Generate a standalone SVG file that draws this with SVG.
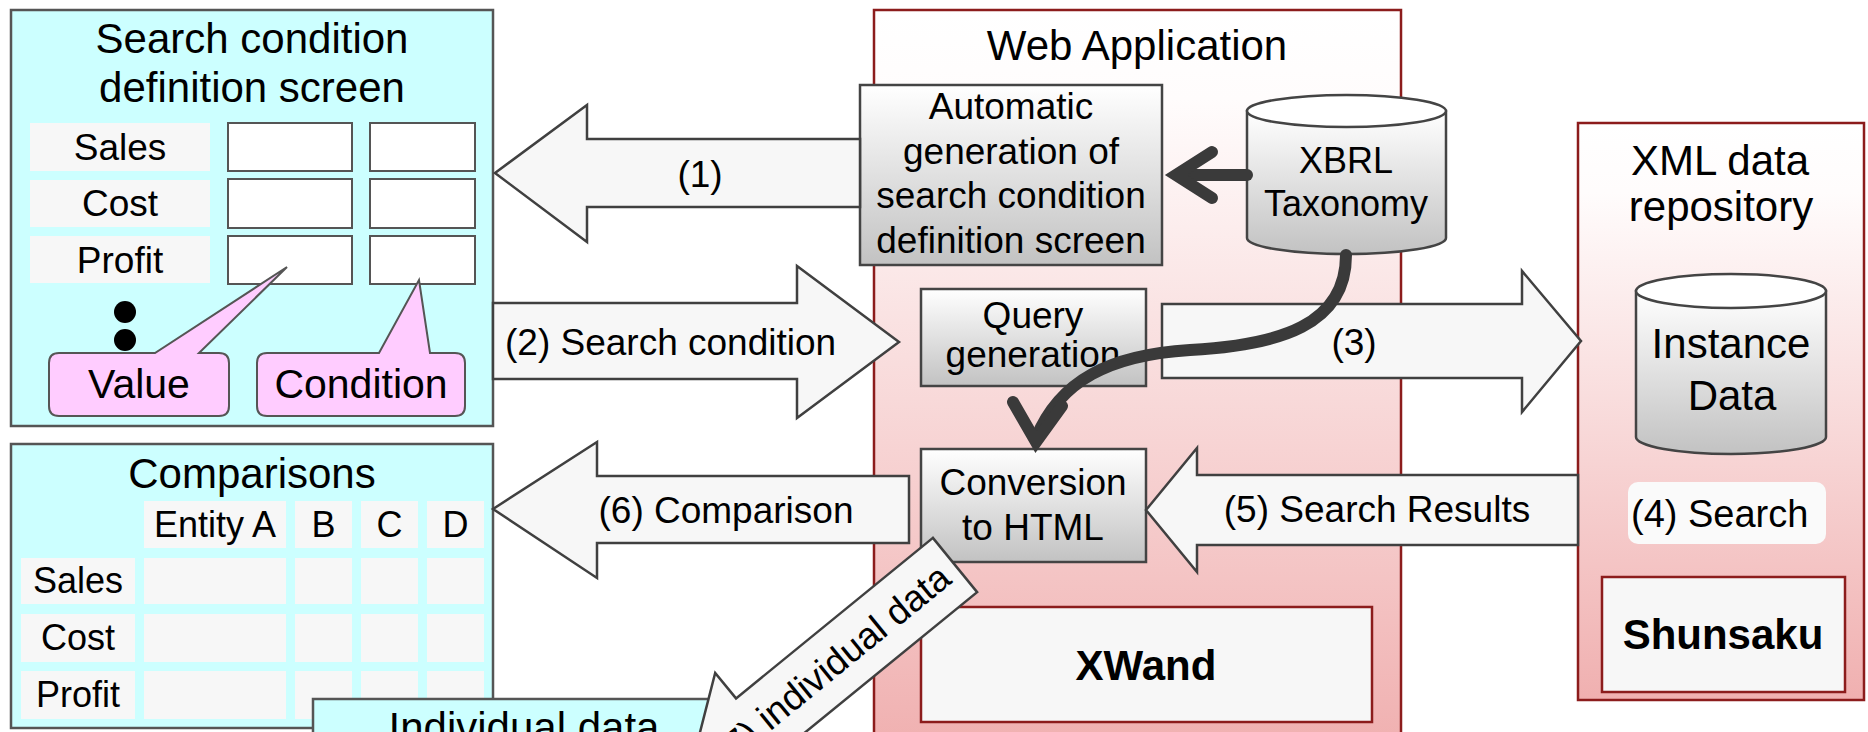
<svg xmlns="http://www.w3.org/2000/svg" width="1868" height="732" viewBox="0 0 1868 732">
<defs>
<linearGradient id="gGray" x1="0" y1="0" x2="0" y2="1"><stop offset="0" stop-color="#ffffff"/><stop offset="1" stop-color="#c2c2c2"/></linearGradient>
<linearGradient id="gPink" x1="0" y1="0" x2="0" y2="1"><stop offset="0" stop-color="#ffffff"/><stop offset="0.12" stop-color="#fffcfc"/><stop offset="1" stop-color="#f0b0b0"/></linearGradient>
<style>
text{font-family:"Liberation Sans",Arial,sans-serif;fill:#000;}
.t42{font-size:42px;text-anchor:middle;}
.t36{font-size:36px;text-anchor:middle;}
.t37{font-size:37px;text-anchor:middle;}
.t41{font-size:41px;text-anchor:middle;}
.bold{font-size:42px;font-weight:bold;text-anchor:middle;}
.panel{fill:#ccffff;stroke:#555;stroke-width:2.5;}
.cell{fill:#f7f7f7;}
.input{fill:#fff;stroke:#555;stroke-width:2;}
.callout{fill:#ffccff;stroke:#555;stroke-width:2;}
.cont{fill:url(#gPink);stroke:#8c1c1c;stroke-width:2.5;}
.proc{fill:url(#gGray);stroke:#444;stroke-width:2.5;}
.prod{fill:#f7f7f7;stroke:#8c1c1c;stroke-width:2.5;}
.barrow{fill:#f7f7f7;stroke:#404040;stroke-width:2.5;stroke-linejoin:miter;}
.thick{fill:none;stroke:#3a3a3a;stroke-width:12;stroke-linecap:round;}
</style>
</defs>

<g id="web-application">
<rect class="cont" x="874" y="10" width="527" height="740"/>
<text class="t42" x="1137" y="60">Web Application</text>
</g>

<g id="xml-repository">
<rect class="cont" x="1578" y="123" width="286" height="577"/>
<text class="t42" x="1720" y="175">XML data</text>
<text class="t42" x="1721" y="221">repository</text>
</g>

<g id="instance-data">
<path d="M1636,291 L1636,437 A95,17 0 0 0 1826,437 L1826,291 Z" fill="url(#gGray)" stroke="#444" stroke-width="2.5"/>
<ellipse cx="1731" cy="291" rx="95" ry="17" fill="#fff" stroke="#444" stroke-width="2.5"/>
<text class="t42" x="1731" y="358">Instance</text>
<text class="t42" x="1732" y="410">Data</text>
</g>

<g id="search-label">
<rect x="1628" y="482" width="198" height="62" rx="10" fill="#fafafa"/>
<text x="1631" y="527" style="font-size:38px">(4) Search</text>
</g>

<g id="shunsaku">
<rect class="prod" x="1602" y="577" width="243" height="115"/>
<text class="bold" x="1723" y="649">Shunsaku</text>
</g>

<g id="search-condition-screen">
<rect class="panel" x="11" y="10" width="482" height="416"/>
<text class="t42" x="252" y="53">Search condition</text>
<text class="t42" x="252" y="102">definition screen</text>
<rect class="cell" x="30" y="123" width="180" height="48"/>
<rect class="cell" x="30" y="180" width="180" height="47"/>
<rect class="cell" x="30" y="236" width="180" height="47"/>
<text class="t37" x="120" y="160">Sales</text>
<text class="t37" x="120" y="216">Cost</text>
<text class="t37" x="120" y="273">Profit</text>
<rect class="input" x="228" y="123" width="124" height="48"/>
<rect class="input" x="370" y="123" width="105" height="48"/>
<rect class="input" x="228" y="179" width="124" height="49"/>
<rect class="input" x="370" y="179" width="105" height="49"/>
<rect class="input" x="228" y="236" width="124" height="48"/>
<rect class="input" x="370" y="236" width="105" height="48"/>
<circle cx="125" cy="312" r="11" fill="#000"/>
<circle cx="125" cy="340" r="11" fill="#000"/>
<path class="callout" d="M59,353 L155,353 L287,267 L199,353 L219,353 Q229,353 229,363 L229,406 Q229,416 219,416 L59,416 Q49,416 49,406 L49,363 Q49,353 59,353 Z"/>
<text class="t41" x="139" y="398">Value</text>
<path class="callout" d="M267,353 L379,353 L419,280 L430,353 L455,353 Q465,353 465,363 L465,406 Q465,416 455,416 L267,416 Q257,416 257,406 L257,363 Q257,353 267,353 Z"/>
<text class="t41" x="361" y="398">Condition</text>
</g>

<g id="comparisons">
<rect class="panel" x="11" y="444" width="482" height="284"/>
<text class="t42" x="252" y="488">Comparisons</text>
<rect class="cell" x="144" y="501" width="142" height="47"/>
<rect class="cell" x="295" y="501" width="57" height="47"/>
<rect class="cell" x="361" y="501" width="57" height="47"/>
<rect class="cell" x="427" y="501" width="57" height="47"/>
<rect class="cell" x="21" y="558" width="114" height="46"/>
<rect class="cell" x="144" y="558" width="142" height="46"/>
<rect class="cell" x="295" y="558" width="57" height="46"/>
<rect class="cell" x="361" y="558" width="57" height="46"/>
<rect class="cell" x="427" y="558" width="57" height="46"/>
<rect class="cell" x="21" y="614" width="114" height="48"/>
<rect class="cell" x="144" y="614" width="142" height="48"/>
<rect class="cell" x="295" y="614" width="57" height="48"/>
<rect class="cell" x="361" y="614" width="57" height="48"/>
<rect class="cell" x="427" y="614" width="57" height="48"/>
<rect class="cell" x="21" y="671" width="114" height="48"/>
<rect class="cell" x="144" y="671" width="142" height="48"/>
<rect class="cell" x="295" y="671" width="57" height="48"/>
<rect class="cell" x="361" y="671" width="57" height="48"/>
<rect class="cell" x="427" y="671" width="57" height="48"/>
<text class="t36" x="215" y="537">Entity A</text>
<text class="t36" x="323.5" y="537">B</text>
<text class="t36" x="389.5" y="537">C</text>
<text class="t36" x="455.5" y="537">D</text>
<text class="t36" x="78" y="593">Sales</text>
<text class="t36" x="78" y="650">Cost</text>
<text class="t36" x="78" y="707">Profit</text>
</g>

<g id="individual-data">
<rect class="panel" x="313" y="699" width="425" height="60"/>
<text class="t42" x="524" y="742">Individual data</text>
</g>

<g id="auto-generation">
<rect class="proc" x="860" y="85" width="302" height="180"/>
<text class="t37" x="1011" y="119">Automatic</text>
<text class="t37" x="1011" y="164">generation of</text>
<text class="t37" x="1011" y="208">search condition</text>
<text class="t37" x="1011" y="253">definition screen</text>
</g>

<g id="xbrl-taxonomy">
<path d="M1247,111 L1247,238 A99.5,16 0 0 0 1446,238 L1446,111 Z" fill="url(#gGray)" stroke="#444" stroke-width="2.5"/>
<ellipse cx="1346.5" cy="111" rx="99.5" ry="16" fill="#fff" stroke="#444" stroke-width="2.5"/>
<text class="t36" x="1346" y="173">XBRL</text>
<text class="t36" x="1346" y="216">Taxonomy</text>
</g>

<g id="query-generation">
<rect class="proc" x="921" y="289" width="225" height="97"/>
<text class="t37" x="1033" y="328">Query</text>
<text class="t37" x="1033" y="367">generation</text>
</g>

<g id="conversion-html">
<rect class="proc" x="921" y="449" width="225" height="113"/>
<text class="t37" x="1033" y="495">Conversion</text>
<text class="t37" x="1033" y="540">to HTML</text>
</g>

<g id="xwand">
<rect class="prod" x="921" y="607" width="451" height="115"/>
<text class="bold" x="1146" y="680">XWand</text>
</g>

<g id="connectors">
<polygon class="barrow" points="495,173 587,105 587,139 860,139 860,207 587,207 587,242"/>
<text class="t37" x="700" y="187">(1)</text>
<polygon class="barrow" points="493,303 797,303 797,266 899,342 797,418 797,379 493,379"/>
<text x="505" y="355" style="font-size:37px">(2) Search condition</text>
<polygon class="barrow" points="1162,304 1522,304 1522,271 1581,341 1522,412 1522,378 1162,378"/>
<text class="t37" x="1354" y="355">(3)</text>
<polygon class="barrow" points="1146,510 1197,448 1197,475 1578,475 1578,545 1197,545 1197,572"/>
<text class="t37" x="1377" y="522">(5) Search Results</text>
<polygon class="barrow" points="493,509 597,442 597,476 909,476 909,543 597,543 597,578"/>
<text class="t37" x="726" y="523">(6) Comparison</text>
<g transform="translate(955,565) rotate(-39.2)">
<polygon class="barrow" points="0,-35 -254,-35 -254,-68 -346,0 -254,68 -254,35 0,35"/>
<text x="-12" y="12" style="font-size:37px;text-anchor:end">(7) individual data</text>
</g>
<path class="thick" d="M1247,175 L1182,175"/>
<path class="thick" d="M1212,152 L1176,175 L1212,198"/>
<path class="thick" d="M1346,255 C1346,325 1280,345 1190,350 C1110,355 1060,380 1036,438"/>
<path class="thick" d="M1013,402 L1036,442 L1062,406"/>
</g>
</svg>
